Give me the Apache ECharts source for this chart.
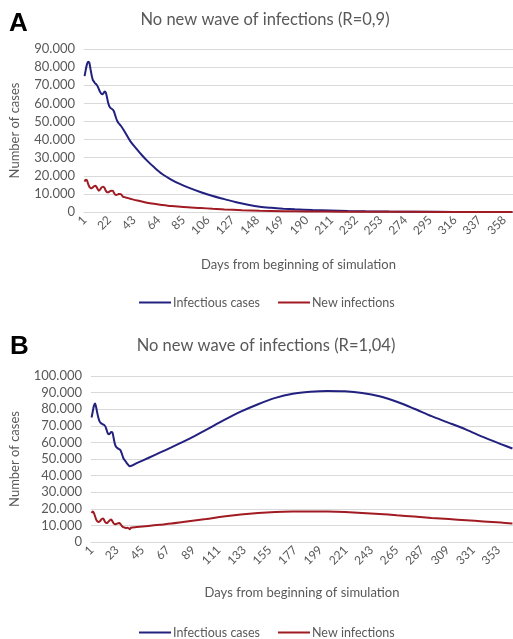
<!DOCTYPE html>
<html>
<head>
<meta charset="utf-8">
<script src="https://cdn.jsdelivr.net/npm/echarts@6/dist/echarts.min.js"></script>
<style>
html,body{margin:0;padding:0;background:#fff;}
#chart{width:513px;height:639px;}
</style>
</head>
<body>
<div id="chart"></div>
<script>
// ---- Data ----
const seriesNames = ['Infectious cases', 'New infections'];
const titleA = 'No new wave of infections (R=0,9)';
const titleB = 'No new wave of infections (R=1,04)';
const xAxisName = 'Days from beginning of simulation';
const yAxisName = 'Number of cases';
const dayCount = 365;

// Panel A: [day, value]
const infectiousA = [
 [1,75000],[2,78500],[3,81500],[4,83000],[5,82500],[6,79000],[7,75500],[8,73000],[9,72000],[10,71000],
 [11,70500],[12,69500],[13,68000],[14,66500],[15,65500],[16,65000],[17,65500],[18,66500],[19,66000],[20,63500],
 [21,60500],[22,58500],[23,57500],[24,57000],[25,56500],[26,55500],[27,53500],[28,51500],[29,50000],[30,49000],
 [32,47500],[35,44500],[40,39000],[45,35000],[50,31200],[55,27800],[60,24800],[67,21000],[75,17800],[82,15500],
 [90,13300],[100,10900],[110,8800],[120,7100],[130,5400],[140,4000],[150,2900],[160,2300],[170,1850],[180,1500],
 [195,1100],[210,820],[225,580],[240,400],[260,250],[280,150],[300,90],[330,40],[365,10]
];
const newInfA = [
 [1,16800],[2,17800],[3,17500],[4,15500],[5,14000],[6,13300],[7,13100],[8,13600],[9,14200],[10,14500],
 [11,14000],[12,12800],[13,11800],[14,12200],[15,13200],[16,13800],[17,14000],[18,13200],[19,11800],[20,11000],
 [21,10900],[22,11200],[23,11600],[24,11800],[25,11700],[26,10600],[27,9600],[28,9400],[29,9600],[30,9900],
 [31,10000],[32,9800],[33,9000],[34,8300],[35,8200],[36,8000],[40,7300],[46,6300],[53,5300],[60,4500],
 [67,3900],[75,3300],[85,2750],[100,2200],[110,1800],[120,1400],[135,1000],[150,700],[170,450],[190,300],
 [220,180],[260,100],[300,50],[365,15]
];

// Panel B: [day, value]
const infectiousB = [
 [1,75000],[2,78500],[3,82000],[4,83500],[5,81000],[6,77500],[7,74500],[8,72500],[9,71700],[10,71200],
 [11,70800],[12,70400],[13,69500],[14,67500],[15,65500],[16,64900],[17,65500],[18,66300],[19,66000],[20,63000],
 [21,59500],[22,57500],[23,56800],[24,56300],[25,55900],[26,55300],[27,53500],[28,51500],[29,49800],[30,49000],
 [31,48000],[32,47000],[33,46200],[34,45600],[40,47500],[50,50600],[60,53800],[70,57000],[80,60300],[90,63800],
 [100,67500],[115,73200],[130,78500],[145,83000],[160,86800],[175,89300],[190,90500],[205,91000],[220,90800],[235,89800],
 [250,87800],[265,84500],[280,80300],[295,75800],[310,71800],[325,67700],[340,63200],[355,59000],[365,56300]
];
const newInfB = [
 [1,17500],[2,18300],[3,17500],[4,15500],[5,13500],[6,12500],[7,12000],[8,12300],[9,13200],[10,14000],
 [11,14100],[12,13000],[13,11800],[14,11400],[15,11800],[16,12600],[17,13200],[18,13500],[19,12500],[20,11300],
 [21,10700],[22,10800],[23,11100],[24,11300],[25,11400],[26,10800],[27,9800],[28,9000],[29,8800],[30,8600],
 [31,8400],[32,8600],[33,8300],[34,7700],[35,8600],[40,9000],[50,9700],[60,10400],[70,11100],[80,12000],
 [90,12900],[100,13800],[115,15300],[130,16500],[145,17400],[160,18000],[175,18300],[190,18400],[205,18300],[220,18000],
 [235,17500],[250,16900],[265,16100],[280,15300],[295,14500],[310,13800],[325,13100],[340,12400],[355,11700],[365,11100]
];

// ---- Styling ----
const days = Array.from({length: dayCount}, (_, i) => String(i + 1));
const BLUE = '#22217F';
const RED = '#A11B22';
const GREY = '#595959';
const GRID = '#D9D9D9';
const FONT = 'Lato, "Open Sans", sans-serif';

function fmt(v) { return String(v).replace(/\B(?=(\d{3})+(?!\d))/g, '.'); }
function toPairs(arr) { return arr.map(p => [String(p[0]), p[1]]); }

function xAxisCfg(gridIndex, labelInterval, nameGap) {
  return {
    type: 'category', gridIndex: gridIndex, data: days, boundaryGap: true,
    axisLine: { show: true, lineStyle: { color: GRID, width: 1 } },
    axisTick: { show: false },
    axisLabel: { interval: labelInterval, rotate: 45, color: GREY, fontSize: 12, fontFamily: FONT, margin: 6 },
    name: xAxisName, nameLocation: 'middle', nameGap: nameGap,
    nameTextStyle: { color: GREY, fontSize: 13, fontFamily: FONT }
  };
}
function yAxisCfg(gridIndex, max, nameGap) {
  return {
    type: 'value', gridIndex: gridIndex, min: 0, max: max, interval: 10000,
    axisLine: { show: false }, axisTick: { show: false },
    splitLine: { lineStyle: { color: GRID, width: 1 } },
    axisLabel: { color: GREY, fontSize: 13, fontFamily: FONT, margin: 9, formatter: fmt },
    name: yAxisName, nameLocation: 'middle', nameGap: nameGap,
    nameTextStyle: { color: GREY, fontSize: 13, fontFamily: FONT }
  };
}
function lineSeries(name, color, data, idx) {
  return {
    name: name, type: 'line', xAxisIndex: idx, yAxisIndex: idx,
    data: toPairs(data), showSymbol: false, symbol: 'none', smooth: 0.3,
    lineStyle: { color: color, width: 2 }, itemStyle: { color: color },
    animation: false
  };
}
function legendCfg(top) {
  return {
    top: top, left: 134, itemWidth: 32, itemHeight: 2, itemGap: 18, icon: 'rect',
    data: seriesNames,
    textStyle: { color: GREY, fontSize: 12.5, fontFamily: FONT, padding: [0,0,0,-3] }
  };
}

const chart = echarts.init(document.getElementById('chart'), null, { renderer: 'canvas' });
chart.setOption({
  animation: false,
  backgroundColor: '#fff',
  graphic: [
    { type: 'text', left: 9, top: 11, style: { text: 'A', fontSize: 26, fontWeight: 'bold', fontFamily: '"Liberation Sans", Arial, sans-serif', fill: '#000' } },
    { type: 'text', left: 10, top: 334, style: { text: 'B', fontSize: 26, fontWeight: 'bold', fontFamily: '"Liberation Sans", Arial, sans-serif', fill: '#000' } },
    { type: 'text', x: 265, y: 20, style: { text: titleA, fontSize: 16.5, fontFamily: FONT, fill: GREY, align: 'center', verticalAlign: 'middle', textAlign: 'center', textVerticalAlign: 'middle' } },
    { type: 'text', x: 266, y: 346, style: { text: titleB, fontSize: 16.5, fontFamily: FONT, fill: GREY, align: 'center', verticalAlign: 'middle', textAlign: 'center', textVerticalAlign: 'middle' } }
  ],
  grid: [
    { left: 81, right: 0, top: 49, height: 163 },
    { left: 88, right: 0, top: 376, height: 166 }
  ],
  legend: [ legendCfg(291), legendCfg(621) ],
  xAxis: [ xAxisCfg(0, 20, 46), xAxisCfg(1, 21, 44) ],
  yAxis: [ yAxisCfg(0, 90000, 63), yAxisCfg(1, 100000, 70) ],
  series: [
    lineSeries(seriesNames[0], BLUE, infectiousA, 0),
    lineSeries(seriesNames[1], RED, newInfA, 0),
    lineSeries(seriesNames[0], BLUE, infectiousB, 1),
    lineSeries(seriesNames[1], RED, newInfB, 1)
  ]
});
</script>
</body>
</html>
